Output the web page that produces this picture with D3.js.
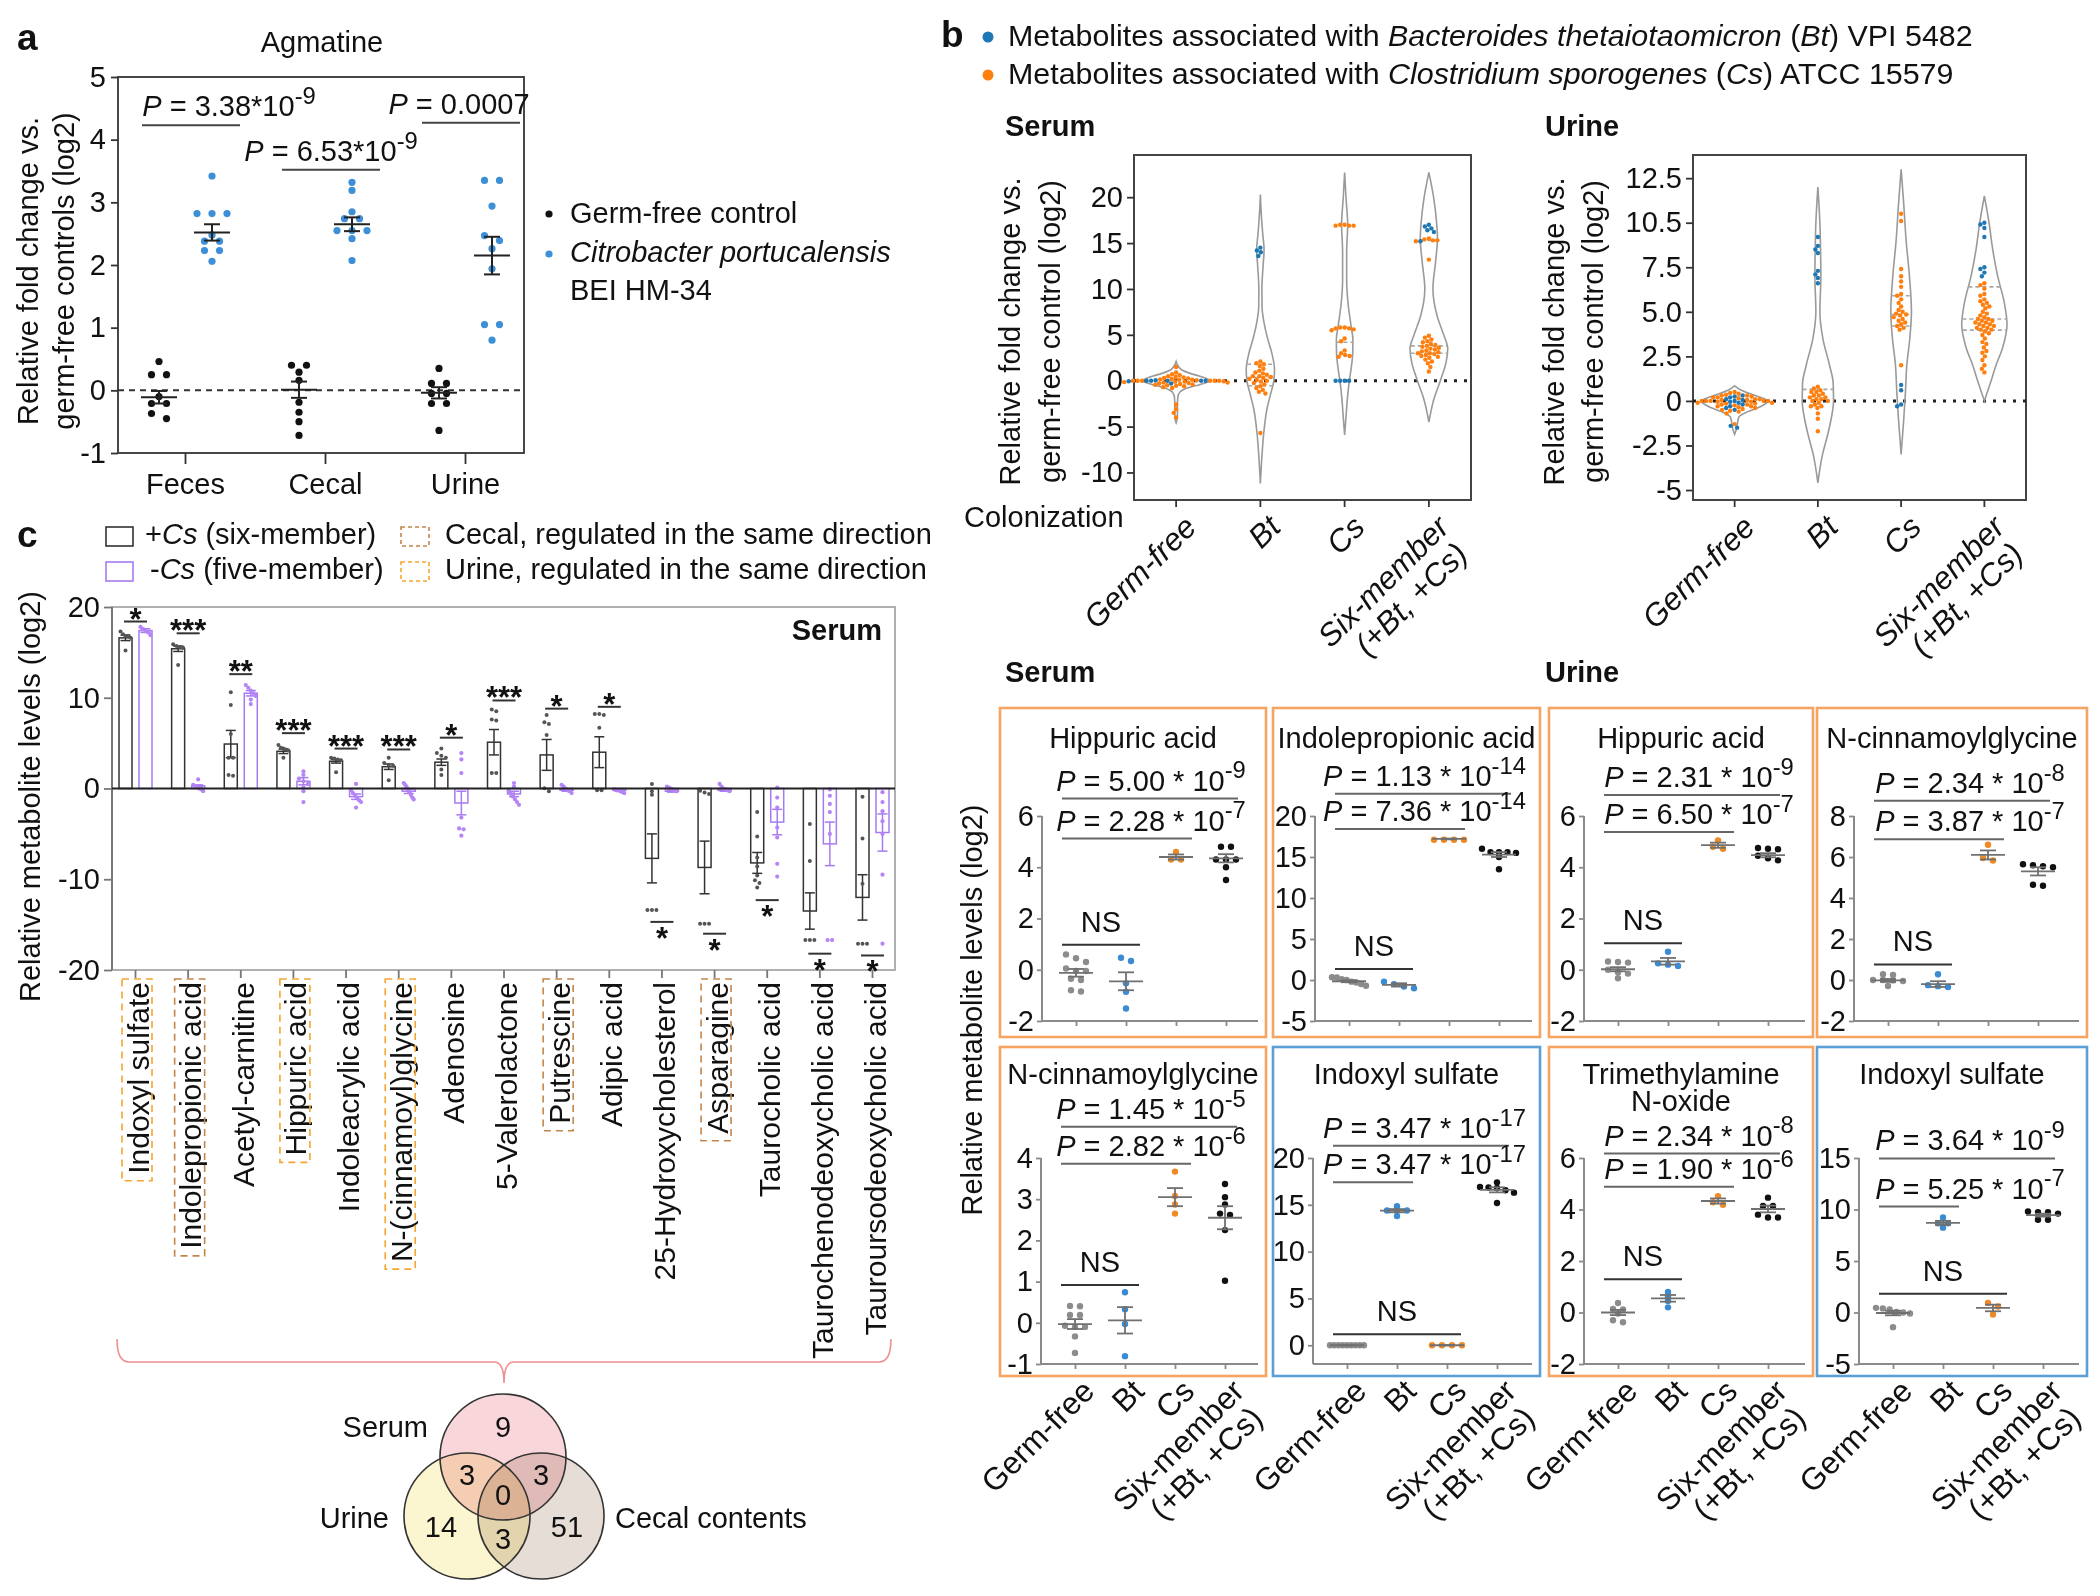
<!DOCTYPE html>
<html><head><meta charset="utf-8">
<script src="https://cdn.jsdelivr.net/npm/d3@7/dist/d3.min.js"></script>
<style>html,body{margin:0;padding:0;background:#fff}svg{display:block}</style>
</head><body>
<svg id="fig" width="2100" height="1596" xmlns="http://www.w3.org/2000/svg"></svg>
<script>
// ======================= DATA =======================
// ---- panel a : Agmatine ----
const agmatineSites = ["Feces", "Cecal", "Urine"];
const agmatineTicks = [-1, 0, 1, 2, 3, 4, 5];
const agmatineGermFree = [
  [0.46, 0.25, 0.25, -0.1, -0.21, -0.21, -0.37, -0.45],
  [0.4, 0.4, 0.29, 0.16, -0.19, -0.35, -0.5, -0.72],
  [0.35, 0.11, 0.11, -0.05, -0.05, -0.21, -0.21, -0.64]
];
const agmatineCitrobacter = [
  [3.42, 2.82, 2.82, 2.82, 2.48, 2.38, 2.38, 2.23, 2.23, 2.06],
  [3.32, 3.19, 2.85, 2.74, 2.74, 2.55, 2.55, 2.55, 2.42, 2.07],
  [3.35, 3.35, 2.94, 2.47, 2.39, 2.26, 1.94, 1.05, 1.05, 0.8]
];
const agmatineGermFreeMean = [-0.11, 0.01, -0.04];
const agmatineGermFreeSem = [0.1, 0.13, 0.09];
const agmatineCitrobacterMean = [2.52, 2.65, 2.15];
const agmatineCitrobacterSem = [0.13, 0.11, 0.3];
const agmatinePMantissa = [" = 3.38*10", " = 6.53*10", " = 0.0007"];
const agmatinePExponent = ["-9", "-9", ""];
const agmatinePLine = [4.23, 3.52, 4.27];

// ---- panel b : violins ----
const colonizationGroups = ["Germ-free", "Bt", "Cs", "Six-member"];
const serumTicks = [-10, -5, 0, 5, 10, 15, 20];
const serumTickLabels = ["-10", "-5", "0", "5", "10", "15", "20"];
const urineTicks = [-5, -2.5, 0, 2.5, 5, 7.5, 10, 12.5];
const urineTickLabels = ["-5", "-2.5", "0", "2.5", "5.0", "7.5", "10.5", "12.5"];
// density profiles: [log2 value, relative half-width]
const serumViolinProfiles = [
  [[2.1,0],[1.6,0.06],[1.2,0.16],[0.8,0.42],[0.4,0.78],[0,1],[-0.4,0.72],[-0.8,0.33],[-1.3,0.1],[-1.8,0.05],[-2.5,0.04],[-3.5,0.04],[-4.2,0.03],[-4.6,0]],
  [[20.3,0],[18,0.03],[16,0.07],[14.3,0.11],[12.5,0.08],[10,0.045],[8,0.05],[6.5,0.1],[4.8,0.2],[3,0.34],[1.2,0.42],[0,0.4],[-1.5,0.3],[-3,0.2],[-5.7,0.1],[-8,0.05],[-11.2,0]],
  [[22.7,0],[20,0.04],[17,0.09],[14,0.06],[11,0.06],[8.5,0.1],[6,0.19],[4.5,0.245],[3,0.24],[1.5,0.2],[0,0.14],[-2,0.08],[-4,0.04],[-5.9,0]],
  [[22.7,0],[20,0.14],[17,0.235],[15.5,0.255],[13,0.2],[10,0.12],[7,0.25],[5,0.44],[3.5,0.56],[2,0.51],[0,0.34],[-2,0.15],[-4.5,0]]
];
const urineViolinProfiles = [
  [[0.85,0],[0.6,0.2],[0.3,0.62],[0,1],[-0.3,0.8],[-0.6,0.4],[-0.9,0.13],[-1.3,0.08],[-1.6,0.05],[-1.87,0]],
  [[12,0],[10,0.06],[8.5,0.08],[7,0.09],[5,0.06],[3.5,0.15],[2,0.35],[1,0.46],[0,0.47],[-1,0.4],[-2,0.28],[-3,0.14],[-4.6,0]],
  [[13,0],[11,0.08],[9,0.15],[7,0.25],[5,0.31],[3.5,0.26],[2,0.17],[0.5,0.13],[-1,0.08],[-3,0]],
  [[11.5,0],[10,0.14],[8.5,0.25],[7,0.4],[5.5,0.6],[4.3,0.68],[3,0.55],[2,0.35],[1,0.18],[0,0]]
];
const serumQuartiles = [[], [-0.55, 0.35, 1.8], [2.75, 4.2, 5.8], [3.0, 3.8, 15.3]];
const urineQuartiles = [[], [0.65], [4.2, 4.85, 5.9], [3.97, 4.6, 6.4]];
const serumBtDots = [
  [0, 0, 0, 0, 0, 0.05, -0.05, -0.3],
  [14.5, 14.2, 14.0, 13.6],
  [0, 0, 0, 0],
  [17.0, 16.8, 16.6, 16.4, 16.2, 15.2]
];
const serumCsDots = [
  [1.5, 0.9, 0.7, 0.6, 0.5, 0.4, 0.35, 0.3, 0.25, 0.2, 0.15, 0.1, 0.1, 0.05, 0, 0, 0, 0, 0, 0, -0.05, -0.1, -0.1, -0.15, -0.2, -0.2, -0.25, -0.3, -0.35, -0.4, -0.45, -0.5, -0.55, -0.6, -0.7, -0.8, -2.6, -3.1, -3.5, -4.0],
  [2.1, 1.9, 1.8, 1.6, 1.3, 1.1, 0.9, 0.8, 0.65, 0.5, 0.5, 0.4, 0.3, 0.2, 0.1, 0, -0.1, -0.25, -0.4, -0.6, -0.8, -1.0, -1.2, -1.4, -5.7],
  [17.0, 17.0, 16.9, 16.9, 16.9, 5.8, 5.8, 5.7, 5.7, 5.6, 5.5, 4.6, 4.3, 3.3, 3.0, 2.8, 2.7, 2.6],
  [15.5, 15.4, 15.3, 15.3, 15.2, 13.2, 4.9, 4.7, 4.5, 4.3, 4.2, 4.0, 3.9, 3.8, 3.7, 3.6, 3.5, 3.4, 3.3, 3.2, 3.1, 3.0, 3.0, 2.9, 2.8, 2.7, 2.6, 2.5, 2.3, 2.1, 1.9, 1.5, 1.0]
];
const urineBtDots = [
  [0.3, 0.25, 0.2, 0.1, 0.05, 0, -0.05, -0.1, -0.2, -0.3, -0.4, -0.5, -1.4, -1.5],
  [9.2, 8.7, 8.5, 8.3, 7.3, 7.1, 6.9, 6.6],
  [0.9, 0.6, -0.2, -0.3],
  [10.0, 9.9, 9.7, 9.2, 7.5, 7.4, 7.2, 7.0]
];
const urineCsDots = [
  [0.5, 0.45, 0.4, 0.35, 0.3, 0.3, 0.25, 0.2, 0.2, 0.15, 0.1, 0.1, 0.05, 0.05, 0, 0, 0, 0, 0, -0.05, -0.05, -0.1, -0.1, -0.15, -0.15, -0.2, -0.2, -0.25, -0.3, -0.3, -0.35, -0.4, -0.45, -0.5, -0.55, -0.6, -0.7, -1.3],
  [0.8, 0.7, 0.6, 0.5, 0.5, 0.4, 0.3, 0.3, 0.2, 0.2, 0.1, 0.1, 0, 0, -0.1, -0.2, -0.3, -0.3, -0.4, -0.7, -1.0, -1.7],
  [10.5, 10.1, 7.4, 7.0, 6.7, 6.4, 6.0, 5.9, 5.7, 5.5, 5.3, 5.1, 5.0, 4.9, 4.85, 4.8, 4.7, 4.6, 4.5, 4.4, 4.3, 4.2, 4.1, 4.0, 2.0],
  [6.6, 6.5, 6.3, 6.0, 5.9, 5.7, 5.6, 5.5, 5.4, 5.3, 5.2, 5.0, 4.9, 4.8, 4.7, 4.6, 4.6, 4.5, 4.5, 4.4, 4.4, 4.3, 4.3, 4.2, 4.2, 4.1, 4.1, 4.0, 4.0, 3.9, 3.8, 3.7, 3.5, 3.3, 3.2, 3.0, 2.8, 2.7, 2.5, 2.3, 2.0, 1.8, 1.6]
];

// ---- panel b : small dot plots ----
const smallTitles = [["Hippuric acid"], ["Indolepropionic acid"], ["Hippuric acid"], ["N-cinnamoylglycine"],
  ["N-cinnamoylglycine"], ["Indoxyl sulfate"], ["Trimethylamine", "N-oxide"], ["Indoxyl sulfate"]];
const smallAssociation = ["Cs", "Cs", "Cs", "Cs", "Cs", "Bt", "Cs", "Bt"];
const smallDomains = [[-2, 6], [-5, 20], [-2, 6], [-2, 8], [-1, 4], [-2, 20], [-2, 6], [-5, 15]];
const smallTicks = [[-2, 0, 2, 4, 6], [-5, 0, 5, 10, 15, 20], [-2, 0, 2, 4, 6], [-2, 0, 2, 4, 6, 8],
  [-1, 0, 1, 2, 3, 4], [0, 5, 10, 15, 20], [-2, 0, 2, 4, 6], [-5, 0, 5, 10, 15]];
const smallGermFree = [
  [0.6, 0.45, 0.3, 0.05, -0.05, -0.05, -0.35, -0.4, -0.8, -0.85],
  [0.35, 0.3, 0.1, 0, -0.2, -0.3, -0.5, -0.7],
  [0.32, 0.3, 0.28, 0, -0.1, -0.15, -0.33],
  [0.28, 0.25, 0, 0, -0.02, -0.05, -0.29],
  [0.41, 0.4, 0.19, 0.19, -0.07, -0.1, -0.1, -0.33, -0.73],
  [0, 0, 0, 0, 0, 0, 0, 0, 0],
  [0.37, 0.14, 0.12, -0.04, -0.3, -0.38],
  [0.45, 0.4, 0.3, 0.05, 0, -0.1, -1.42]
];
const smallBt = [
  [0.47, 0.34, -0.53, -0.86, -1.51],
  [-0.2, -0.5, -0.8, -1.0],
  [0.7, 0.25, 0.2, 0.15],
  [0.28, -0.25, -0.3, -0.34],
  [0.74, 0.33, -0.03, -0.81],
  [14.85, 14.4, 14.4, 14.4, 13.8],
  [0.8, 0.61, 0.45, 0.2],
  [9.23, 8.66, 8.66, 8.24]
];
const smallCs = [
  [4.6, 4.3, 4.3],
  [17.1, 17.1, 17.1, 17.1],
  [5.05, 4.8, 4.72],
  [6.6, 5.95, 5.83],
  [3.67, 3.08, 2.87, 2.65],
  [0, 0, 0, 0],
  [4.52, 4.28, 4.18],
  [0.93, 0.58, -0.2]
];
const smallSix = [
  [4.8, 4.8, 4.3, 4.3, 4.3, 4.0, 3.5],
  [16.0, 15.6, 15.6, 15.6, 15.5, 15.0, 13.5],
  [4.75, 4.72, 4.7, 4.45, 4.35, 4.27],
  [5.65, 5.6, 5.55, 5.5, 4.65, 4.6],
  [3.37, 3.05, 2.87, 2.65, 2.62, 2.25, 1.02],
  [17.4, 16.9, 16.85, 16.8, 16.55, 16.3, 15.2],
  [4.46, 4.14, 4.14, 3.8, 3.69, 3.69],
  [9.8, 9.75, 9.75, 9.6, 9.0, 9.0]
];
const smallMeans = [[-0.12, -0.45, 4.4, 4.35], [-0.15, -0.6, 17.2, 15.3], [0.02, 0.33, 4.86, 4.47], [-0.02, -0.2, 6.1, 5.3],
  [-0.03, 0.06, 3.05, 2.55], [0, 14.37, 0, 16.6], [0, 0.55, 4.33, 4.02], [-0.05, 8.7, 0.44, 9.45]];
const smallSems = [[0.15, 0.35, 0.1, 0.16], [0.12, 0.2, 0.05, 0.3], [0.08, 0.13, 0.1, 0.08], [0.07, 0.14, 0.22, 0.2],
  [0.12, 0.32, 0.22, 0.28], [0.02, 0.17, 0.01, 0.27], [0.1, 0.13, 0.1, 0.13], [0.22, 0.2, 0.32, 0.14]];
const smallP1 = [["5.00", "-9"], ["1.13", "-14"], ["2.31", "-9"], ["2.34", "-8"], ["1.45", "-5"], ["3.47", "-17"], ["2.34", "-8"], ["3.64", "-9"]];
const smallP2 = [["2.28", "-7"], ["7.36", "-14"], ["6.50", "-7"], ["3.87", "-7"], ["2.82", "-6"], ["3.47", "-17"], ["1.90", "-6"], ["5.25", "-7"]];
// y (log2) of the comparison bars: [P1 line, P2 line, NS line]
const smallLineValues = [[6.68, 5.12, 0.98], [22.7, 18.4, 1.34], [6.82, 5.38, 1.03], [8.74, 6.87, 0.76],
  [4.76, 3.86, 0.92], [21.3, 17.4, 1.18], [6.17, 4.88, 1.29], [14.96, 10.28, 1.81]];

// ---- panel c ----
const metaboliteNames = ["Indoxyl sulfate", "Indolepropionic acid", "Acetyl-carnitine", "Hippuric acid", "Indoleacrylic acid",
  "N-(cinnamoyl)glycine", "Adenosine", "5-Valerolactone", "Putrescine", "Adipic acid", "25-Hydroxycholesterol",
  "Asparagine", "Taurocholic acid", "Taurochenodeoxycholic acid", "Tauroursodeoxycholic acid"];
const metaboliteTicks = [-20, -10, 0, 10, 20];
const sixMemberMean = [16.6, 15.4, 4.9, 4.1, 3.0, 2.4, 2.9, 5.1, 3.7, 4.0, -7.7, -8.7, -8.2, -13.5, -12.0];
const sixMemberSem = [0.3, 0.3, 1.5, 0.25, 0.2, 0.3, 0.35, 1.4, 1.7, 1.7, 2.7, 2.9, 1.15, 2.0, 2.5];
const fiveMemberMean = [17.4, 0.3, 10.5, 0.8, -0.9, -0.3, -1.6, -0.6, -0.2, -0.2, -0.3, -0.2, -3.7, -6.1, -4.85];
const fiveMemberSem = [0.2, 0.1, 0.3, 0.4, 0.3, 0.25, 1.3, 0.3, 0.1, 0.05, 0.1, 0.1, 1.4, 2.4, 2.05];
const sixMemberDots = [
  [17.3, 17.0, 16.8, 16.8, 16.6, 15.2], [15.9, 15.7, 15.6, 15.5, 13.6], [10.6, 9.2, 6.0, 3.4, 3.4, 1.5, 1.4],
  [4.8, 4.5, 4.4, 4.3, 4.2, 3.4], [3.4, 3.3, 3.2, 3.1, 1.8], [3.4, 2.8, 2.6, 2.5, 0.9], [4.4, 3.9, 3.6, 3.4, 2.1, 1.5],
  [8.7, 8.5, 7.6, 7.5, 1.7, 1.7], [8.1, 7.3, 7.1, 5.9, 0.03, -0.3], [8.2, 8.2, 8.1, 6.7, -0.2, -0.2],
  [0.5, -0.3, -0.7, -13.4, -13.4, -13.4], [-0.25, -0.45, -0.6, -14.9, -14.9, -14.9],
  [-2.6, -5.3, -7.6, -8.6, -9.6, -10.1, -10.4, -10.9], [-3.9, -8.0, -16.7, -16.7, -16.7], [-0.9, -5.5, -10.5, -17.1, -17.1, -17.1]
];
const fiveMemberDots = [
  [17.8, 17.6, 17.5, 17.3, 17.2, 16.9], [1.0, 0.4, 0.3, 0.1, 0, -0.1, -0.3], [11.4, 11.1, 10.8, 10.5, 10.2, 9.8, 9.3],
  [1.9, 1.5, 1.1, 0.8, 0.5, 0.1, -0.3, -1.5], [0.5, -0.2, -0.5, -0.8, -1.0, -1.3, -1.5, -2.1],
  [0.6, 0.4, 0.2, -0.1, -0.4, -0.7, -1.0, -1.2], [3.9, 3.2, 1.7, -3.2, -4.4, -4.5, -5.2],
  [0.6, 0.2, -0.3, -0.6, -0.9, -1.2, -1.5, -1.8], [0.4, 0.2, 0, -0.2, -0.3, -0.5], [-0.1, -0.2, -0.2, -0.3, -0.4, -0.5],
  [0.2, 0.1, 0, -0.1, -0.2, -0.3], [0.5, 0.2, 0, -0.1, -0.2, -0.3], [0.1, -1.0, -2.1, -4.3, -5.4, -8.3, -9.7],
  [-0.1, -0.8, -1.7, -2.6, -5.0, -16.7, -16.7], [-0.4, -1.5, -2.5, -3.6, -5.0, -9.5, -17.1]
];
const significanceLabels = ["*", "***", "**", "***", "***", "***", "*", "***", "*", "*", "*", "*", "*", "*", "*"];
const significanceLineValues = [18.4, 17.1, 12.6, 6.1, 4.4, 4.3, 5.6, 9.7, 8.8, 9.0, -14.7, -16.0, -12.3, -18.2, -18.4];
const sameDirectionIn = ["Urine", "Cecal", "", "Urine", "", "Urine", "", "", "Cecal", "", "", "Cecal", "", "", ""];

// ---- Venn ----
const vennSets = ["Serum", "Urine", "Cecal contents"];
const vennOnly = [9, 14, 51];
const vennSerumUrine = 3, vennSerumCecal = 3, vennUrineCecal = 3, vennAll = 0;

// ======================= DRAWING =======================
const svg = d3.select("#fig");
const F = "'Liberation Sans', Arial, Helvetica, sans-serif";
const FS = 29;
const ROT_FS = 31.5;
const INK = "#111";

function rich(parent, x, y, parts, o = {}) {
  const size = o.size || FS;
  const t = parent.append("text").attr("x", x).attr("y", y)
    .attr("font-family", F).attr("font-size", size)
    .attr("text-anchor", o.anchor || "start").attr("fill", o.fill || INK);
  if (o.weight) t.attr("font-weight", o.weight);
  if (o.italic) t.attr("font-style", "italic");
  if (o.transform) t.attr("transform", o.transform);
  if (typeof parts === "string") parts = [[parts]];
  parts.forEach(([s, st]) => {
    if (!s) return;
    const ts = t.append("tspan").text(s);
    if (st === "i") ts.attr("font-style", "italic");
    if (st === "sup") ts.attr("font-size", size * 0.82).attr("dy", -size * 0.42);
  });
  return t;
}
function line(g, x1, y1, x2, y2, col, w, dash) {
  const l = g.append("line").attr("x1", x1).attr("y1", y1).attr("x2", x2).attr("y2", y2)
    .attr("stroke", col).attr("stroke-width", w);
  if (dash) l.attr("stroke-dasharray", dash);
  return l;
}
function styleAxis(sel, size, col) {
  sel.attr("font-family", null).attr("font-size", null);
  sel.select(".domain").remove();
  sel.selectAll(".tick line").attr("stroke", col).attr("stroke-width", 1.8);
  sel.selectAll(".tick text").attr("font-family", F).attr("font-size", size).attr("fill", INK);
}
function rowLayout(vals, ys, cx, stepMax, spanMax, thresh) {
  const pts = vals.map(v => ({ v, y: ys(v) })).sort((a, b) => a.y - b.y);
  const rows = [];
  pts.forEach(p => {
    const last = rows[rows.length - 1];
    if (last && Math.abs(p.y - last[last.length - 1].y) < thresh) last.push(p); else rows.push([p]);
  });
  rows.forEach(r => {
    const k = r.length, step = k > 1 ? Math.min(stepMax, spanMax / (k - 1)) : 0;
    r.forEach((p, i) => p.x = cx + (i - (k - 1) / 2) * step);
  });
  return pts;
}
function swarm(pts, ys, cx, r) {
  pts.forEach(p => p.y = ys(p.v));
  pts.sort((a, b) => a.y - b.y);
  const placed = [], d2 = (2 * r) * (2 * r) * 0.92;
  pts.forEach(p => {
    let off = 0;
    for (let k = 0; k < 600; k++) {
      const o = (k % 2 === 0 ? 1 : -1) * Math.ceil(k / 2) * 0.5;
      let ok = true;
      for (const q of placed) {
        const dx = q.x - (cx + o), dy = q.y - p.y;
        if (dx * dx + dy * dy < d2) { ok = false; break; }
      }
      if (ok) { off = o; break; }
    }
    p.x = cx + off; placed.push(p);
  });
  return pts;
}
function meanSem(g, cx, ys, mean, sem, half, cap, col, w) {
  line(g, cx - half, ys(mean), cx + half, ys(mean), col, w);
  line(g, cx, ys(mean - sem), cx, ys(mean + sem), col, w);
  line(g, cx - cap, ys(mean + sem), cx + cap, ys(mean + sem), col, w);
  line(g, cx - cap, ys(mean - sem), cx + cap, ys(mean - sem), col, w);
}
function rotatedGroupLabel(g, x, y, grp, italic) {
  const lab = g.append("text").attr("font-family", F).attr("font-size", ROT_FS)
    .attr("text-anchor", "end").attr("fill", INK)
    .attr("transform", `translate(${x},${y}) rotate(-45)`);
  if (italic) lab.attr("font-style", "italic");
  const lines = grp === "Six-member" ? ["Six-member", "(+Bt, +Cs)"] : [grp];
  lines.forEach((s, k) => lab.append("tspan").attr("x", k ? -6 : 0).attr("dy", k ? "1.02em" : "0.72em").text(s));
}

// ---------------- Panel a ----------------
(function () {
  const A = { x0: 118, x1: 524, y0: 77, y1: 453 };
  const g = svg.append("g");
  rich(g, 17, 50, "a", { size: 37, weight: "bold" });
  rich(g, (A.x0 + A.x1) / 2 + 1, 52, "Agmatine", { anchor: "middle" });
  const ya = d3.scaleLinear().domain([-1, 5]).range([A.y1, A.y0]);
  const xa = d3.scalePoint().domain(agmatineSites).range([A.x0 + 67, A.x1 - 59]);
  g.append("rect").attr("x", A.x0).attr("y", A.y0).attr("width", A.x1 - A.x0).attr("height", A.y1 - A.y0)
    .attr("fill", "none").attr("stroke", "#333").attr("stroke-width", 1.8);
  const ay = g.append("g").attr("transform", `translate(${A.x0},0)`)
    .call(d3.axisLeft(ya).tickValues(agmatineTicks).tickSize(7).tickPadding(5).tickFormat(d => String(d)));
  styleAxis(ay, FS, "#333");
  const ax = g.append("g").attr("transform", `translate(0,${A.y1})`)
    .call(d3.axisBottom(xa).tickSize(11).tickPadding(9));
  styleAxis(ax, FS, "#333");
  line(g, A.x0, ya(0), A.x1, ya(0), "#333", 2, "6,5");
  rich(g, 0, 0, "Relative fold change vs.", { anchor: "middle", transform: `translate(38,${(A.y0 + A.y1) / 2 + 6}) rotate(-90)` });
  rich(g, 0, 0, "germ-free controls (log2)", { anchor: "middle", transform: `translate(74,${(A.y0 + A.y1) / 2 + 6}) rotate(-90)` });
  const pDx = [38, 0, -12];
  agmatineSites.forEach((s, i) => {
    const c = xa(s);
    rowLayout(agmatineGermFree[i], ya, c - 26, 15, 30, 5.5).forEach(p =>
      g.append("circle").attr("cx", p.x).attr("cy", p.y).attr("r", 3.6).attr("fill", "#111"));
    rowLayout(agmatineCitrobacter[i], ya, c + 27, 15, 30, 5.5).forEach(p =>
      g.append("circle").attr("cx", p.x).attr("cy", p.y).attr("r", 3.6).attr("fill", "#3d8fd6"));
    meanSem(g, c - 26, ya, agmatineGermFreeMean[i], agmatineGermFreeSem[i], 18, 8, "#222", 2);
    meanSem(g, c + 27, ya, agmatineCitrobacterMean[i], agmatineCitrobacterSem[i], 18, 8, "#222", 2);
    const ly = ya(agmatinePLine[i]), lc = c + 6;
    line(g, lc - 49, ly, lc + 49, ly, "#444", 2);
    rich(g, lc + pDx[i], ly - 9, [["P", "i"], [agmatinePMantissa[i]], [agmatinePExponent[i], "sup"]], { anchor: "middle" });
  });
  g.append("circle").attr("cx", 549).attr("cy", 214).attr("r", 3.6).attr("fill", "#111");
  g.append("circle").attr("cx", 549).attr("cy", 254).attr("r", 3.6).attr("fill", "#3d8fd6");
  rich(g, 570, 223, "Germ-free control");
  rich(g, 570, 262, [["Citrobacter portucalensis", "i"]]);
  rich(g, 570, 300, "BEI HM-34");
})();

// ---------------- Panel b top: legend + violins ----------------
const VBLUE = "#1f77b4", VORANGE = "#ff7f0e";
(function () {
  const g = svg.append("g");
  rich(g, 941, 47, "b", { size: 37, weight: "bold" });
  g.append("circle").attr("cx", 988).attr("cy", 37).attr("r", 5.5).attr("fill", VBLUE);
  g.append("circle").attr("cx", 988).attr("cy", 75).attr("r", 5.5).attr("fill", VORANGE);
  rich(g, 1008, 46, [["Metabolites associated with "], ["Bacteroides thetaiotaomicron", "i"], [" ("], ["Bt", "i"], [") VPI 5482"]], { size: 30.4 });
  rich(g, 1008, 84, [["Metabolites associated with "], ["Clostridium sporogenes", "i"], [" ("], ["Cs", "i"], [") ATCC 15579"]], { size: 30.4 });
})();

function violinPlot(cfg) {
  const g = svg.append("g");
  rich(g, cfg.titleX, 136, cfg.title, { weight: "bold" });
  const ys = d3.scaleLinear().domain(cfg.domain).range([cfg.y1, cfg.y0]);
  const xs = d3.scaleBand().domain(colonizationGroups).range([cfg.x0, cfg.x1]);
  const half = xs.bandwidth() * 0.4;
  g.append("rect").attr("x", cfg.x0).attr("y", cfg.y0).attr("width", cfg.x1 - cfg.x0).attr("height", cfg.y1 - cfg.y0)
    .attr("fill", "none").attr("stroke", "#444").attr("stroke-width", 2);
  const ay = g.append("g").attr("transform", `translate(${cfg.x0},0)`)
    .call(d3.axisLeft(ys).tickValues(cfg.ticks).tickFormat((d, i) => cfg.tickLabels[i]).tickSize(7).tickPadding(4));
  styleAxis(ay, FS, "#333");
  const ax = g.append("g").attr("transform", `translate(0,${cfg.y1})`)
    .call(d3.axisBottom(xs).tickSize(7).tickFormat(""));
  styleAxis(ax, FS, "#333");
  line(g, cfg.x0, ys(0), cfg.x1, ys(0), "#222", 3, "3,7");
  const yc = (cfg.y0 + cfg.y1) / 2;
  rich(g, 0, 0, "Relative fold change vs.", { anchor: "middle", transform: `translate(${cfg.yt1},${yc + 4}) rotate(-90)` });
  rich(g, 0, 0, "germ-free control (log2)", { anchor: "middle", transform: `translate(${cfg.yt2},${yc + 4}) rotate(-90)` });
  const interp = (prof, q) => {
    for (let k = 0; k < prof.length - 1; k++) {
      const a = prof[k], b = prof[k + 1];
      if (q <= a[0] && q >= b[0]) return a[1] + (b[1] - a[1]) * (a[0] - q) / (a[0] - b[0]);
    }
    return 0;
  };
  colonizationGroups.forEach((grp, i) => {
    const cx = xs(grp) + xs.bandwidth() / 2;
    const prof = cfg.profiles[i];
    const area = d3.area().y(d => ys(d[0])).x0(d => cx - d[1] * half).x1(d => cx + d[1] * half).curve(d3.curveMonotoneY);
    g.append("path").attr("d", area(prof)).attr("fill", "none").attr("stroke", "#9a9a9a").attr("stroke-width", 1.6);
    cfg.quartiles[i].forEach(q => {
      const w = interp(prof, q) * half;
      line(g, cx - w, ys(q), cx + w, ys(q), "#a8a8a8", 1.6, "4,3");
    });
    const pts = cfg.bt[i].map(v => ({ v, c: VBLUE })).concat(cfg.cs[i].map(v => ({ v, c: VORANGE })));
    swarm(pts, ys, cx, 2.2).forEach(p =>
      g.append("circle").attr("cx", p.x).attr("cy", p.y).attr("r", 2.2).attr("fill", p.c));
    rotatedGroupLabel(g, cx + 6, cfg.y1 + 13, grp, true);
  });
  if (cfg.colonization) rich(g, 964, 527, "Colonization");
}
violinPlot({ title: "Serum", titleX: 1005, x0: 1134, x1: 1471, y0: 155, y1: 500, domain: [-13, 24.6],
  ticks: serumTicks, tickLabels: serumTickLabels, profiles: serumViolinProfiles, quartiles: serumQuartiles,
  bt: serumBtDots, cs: serumCsDots, yt1: 1020, yt2: 1060, colonization: true });
violinPlot({ title: "Urine", titleX: 1545, x0: 1693, x1: 2026, y0: 155, y1: 500, domain: [-5.56, 13.8],
  ticks: urineTicks, tickLabels: urineTickLabels, profiles: urineViolinProfiles, quartiles: urineQuartiles,
  bt: urineBtDots, cs: urineCsDots, yt1: 1564, yt2: 1603, colonization: false });

// ---------------- Panel b bottom: 8 dot plots ----------------
const smallBoxes = [[1000, 708, 1266, 1037], [1273, 708, 1540, 1037], [1549, 708, 1813, 1037], [1817, 708, 2087, 1037],
  [1000, 1047, 1266, 1376], [1273, 1047, 1540, 1376], [1549, 1047, 1813, 1376], [1817, 1047, 2087, 1376]];
const smallAxisX = [1042, 1315, 1584, 1854, 1041, 1313, 1584, 1859];
const groupColor = ["#8c8c8c", "#3a8bd4", "#f08a24", "#111"];
(function () {
  const g = svg.append("g");
  rich(g, 1005, 682, "Serum", { weight: "bold" });
  rich(g, 1545, 682, "Urine", { weight: "bold" });
  rich(g, 0, 0, "Relative metabolite levels (log2)", { anchor: "middle", transform: "translate(982,1010) rotate(-90)" });
  smallBoxes.forEach((b, i) => {
    const [bx0, by0, bx1, by1] = b;
    const row = i < 4 ? 0 : 1;
    const yr = row === 0 ? [1021, 816] : [1364, 1158];
    const ys = d3.scaleLinear().domain(smallDomains[i]).range(yr);
    const axX = smallAxisX[i];
    const xs = d3.scalePoint().domain(colonizationGroups).range([axX + 34, axX + 184]);
    g.append("rect").attr("x", bx0).attr("y", by0).attr("width", bx1 - bx0).attr("height", by1 - by0)
      .attr("fill", "none").attr("stroke", smallAssociation[i] === "Cs" ? "#f5a462" : "#5b9fd5").attr("stroke-width", 2.6);
    const cxBox = (bx0 + bx1) / 2;
    smallTitles[i].forEach((t, k) => rich(g, cxBox, by0 + (row ? 37 : 40) + k * 27, t, { anchor: "middle" }));
    line(g, axX, yr[0], axX, yr[1], "#8a8a8a", 2);
    line(g, axX, yr[0], bx1 - 8, yr[0], "#8a8a8a", 2);
    const ay = g.append("g").attr("transform", `translate(${axX},0)`)
      .call(d3.axisLeft(ys).tickValues(smallTicks[i]).tickSize(5).tickPadding(3).tickFormat(d => String(d)));
    styleAxis(ay, FS, "#8a8a8a");
    const ax = g.append("g").attr("transform", `translate(0,${yr[0]})`)
      .call(d3.axisBottom(xs).tickSize(5).tickFormat(""));
    styleAxis(ax, FS, "#8a8a8a");
    const [l1, l2, ln] = smallLineValues[i];
    const pairL2 = smallAssociation[i] === "Cs" ? "Cs" : "Bt";
    const pairNS = smallAssociation[i] === "Cs" ? "Bt" : "Cs";
    const xL = xs("Germ-free") - 14;
    line(g, xL, ys(l1), xs("Six-member") + 12, ys(l1), "#666", 2);
    line(g, xL, ys(l2), xs(pairL2) + 16, ys(l2), "#666", 2);
    line(g, xL, ys(ln), xs(pairNS) + 14, ys(ln), "#333", 2);
    rich(g, cxBox + 18, ys(l1) - 8, [["P", "i"], [" = " + smallP1[i][0] + " * 10"], [smallP1[i][1], "sup"]], { anchor: "middle" });
    rich(g, cxBox + 18, ys(l2) - 8, [["P", "i"], [" = " + smallP2[i][0] + " * 10"], [smallP2[i][1], "sup"]], { anchor: "middle" });
    rich(g, (xL + xs(pairNS) + 14) / 2, ys(ln) - 13, "NS", { anchor: "middle" });
    const sets = [smallGermFree[i], smallBt[i], smallCs[i], smallSix[i]];
    colonizationGroups.forEach((grp, k) => {
      const cx = xs(grp);
      rowLayout(sets[k], ys, cx, 10, 34, 4).forEach(p =>
        g.append("circle").attr("cx", p.x).attr("cy", p.y).attr("r", 3.2).attr("fill", groupColor[k]));
      meanSem(g, cx, ys, smallMeans[i][k], smallSems[i][k], 17, 8, "#707070", 1.8);
    });
    if (row === 1) colonizationGroups.forEach(grp => rotatedGroupLabel(g, xs(grp) + 5, yr[0] + 13, grp, false));
  });
})();

// ---------------- Panel c ----------------
(function () {
  const C = { x0: 112, x1: 895, y0: 607, y1: 970 };
  const g = svg.append("g");
  rich(g, 17, 547, "c", { size: 37, weight: "bold" });
  g.append("rect").attr("x", 106).attr("y", 527).attr("width", 27).attr("height", 19).attr("fill", "none").attr("stroke", "#333").attr("stroke-width", 1.6);
  g.append("rect").attr("x", 106).attr("y", 562).attr("width", 27).attr("height", 19).attr("fill", "none").attr("stroke", "#a77bf0").attr("stroke-width", 1.6);
  g.append("rect").attr("x", 401).attr("y", 527).attr("width", 28).attr("height", 19).attr("fill", "none").attr("stroke", "#c4854a").attr("stroke-width", 1.6).attr("stroke-dasharray", "4,3");
  g.append("rect").attr("x", 401).attr("y", 562).attr("width", 28).attr("height", 19).attr("fill", "none").attr("stroke", "#f5a630").attr("stroke-width", 1.6).attr("stroke-dasharray", "4,3");
  rich(g, 145, 544, [["+"], ["Cs", "i"], [" (six-member)"]]);
  rich(g, 150, 579, [["-"], ["Cs", "i"], [" (five-member)"]]);
  rich(g, 445, 544, "Cecal, regulated in the same direction");
  rich(g, 445, 579, "Urine, regulated in the same direction");

  const yc = d3.scaleLinear().domain([-20, 20]).range([C.y1, C.y0]);
  const xc = d3.scalePoint().domain(metaboliteNames).range([135, 872]);
  g.append("rect").attr("x", C.x0).attr("y", C.y0).attr("width", C.x1 - C.x0).attr("height", C.y1 - C.y0)
    .attr("fill", "none").attr("stroke", "#b0b0b0").attr("stroke-width", 2);
  line(g, C.x0, C.y0, C.x0, C.y1, "#777", 2);
  const ay = g.append("g").attr("transform", `translate(${C.x0},0)`)
    .call(d3.axisLeft(yc).tickValues(metaboliteTicks).tickSize(8).tickPadding(4).tickFormat(d => String(d)));
  styleAxis(ay, FS, "#777");
  const ax = g.append("g").attr("transform", `translate(0,${C.y1})`)
    .call(d3.axisBottom(xc).tickSize(8).tickFormat(""));
  styleAxis(ax, FS, "#777");
  rich(g, 0, 0, "Relative metabolite levels (log2)", { anchor: "middle", transform: `translate(40,${(C.y0 + C.y1) / 2 + 8}) rotate(-90)` });
  rich(g, 882, 640, "Serum", { anchor: "end", weight: "bold" });

  const BW = 13, PURPLE = "#a77bf0", PDOT = "#b585f7";
  metaboliteNames.forEach((nm, i) => {
    const c = xc(nm);
    const bx = c - 9.5, px = c + 10.5;
    const drawBar = (cx, v, col) => g.append("rect").attr("x", cx - BW / 2).attr("y", Math.min(yc(v), yc(0)))
      .attr("width", BW).attr("height", Math.abs(yc(v) - yc(0))).attr("fill", "#fff").attr("stroke", col).attr("stroke-width", 1.5);
    drawBar(bx, sixMemberMean[i], "#333");
    drawBar(px, fiveMemberMean[i], PURPLE);
    const err = (cx, m, s, col) => {
      line(g, cx, yc(m - s), cx, yc(m + s), col, 1.5);
      line(g, cx - 5, yc(m + s), cx + 5, yc(m + s), col, 1.5);
      line(g, cx - 5, yc(m - s), cx + 5, yc(m - s), col, 1.5);
    };
    err(bx, sixMemberMean[i], sixMemberSem[i], "#333");
    err(px, fiveMemberMean[i], fiveMemberSem[i], PURPLE);
    rowLayout(sixMemberDots[i], yc, bx, 4.5, 10, 3).forEach(p =>
      g.append("circle").attr("cx", p.x).attr("cy", p.y).attr("r", 2).attr("fill", "#555"));
    rowLayout(fiveMemberDots[i], yc, px, 4.5, 10, 3).forEach(p =>
      g.append("circle").attr("cx", p.x).attr("cy", p.y).attr("r", 2.1).attr("fill", PDOT));
    const sv = significanceLineValues[i], sy = yc(sv);
    line(g, c - 11, sy, c + 12, sy, "#333", 2);
    const above = sv > 0;
    rich(g, c + 0.5, above ? sy + 8 : sy + 27, significanceLabels[i], { anchor: "middle", size: 31, weight: "bold" });
    const t = rich(g, 0, 0, nm, { anchor: "end", size: 30, transform: `translate(${c + 3},${C.y1 + 12}) rotate(-90)` }).attr("dy", "0.35em");
    if (sameDirectionIn[i]) {
      const len = t.node().getComputedTextLength();
      g.append("rect").attr("x", c - 13).attr("y", C.y1 + 9).attr("width", 30).attr("height", len + 10)
        .attr("fill", "none").attr("stroke", sameDirectionIn[i] === "Urine" ? "#f5a630" : "#c4854a")
        .attr("stroke-width", 1.6).attr("stroke-dasharray", "7,5");
    }
  });
  line(g, C.x0, yc(0), C.x1, yc(0), "#222", 2);

  const L = xc(metaboliteNames[0]) - 18, R = xc(metaboliteNames[metaboliteNames.length - 1]) + 19, M = (L + R) / 2;
  const yT = 1339, yB = 1362, yP = 1383;
  g.append("path").attr("d",
    `M${L},${yT} Q${L},${yB} ${L + 12},${yB} L${M - 10},${yB} Q${M},${yB} ${M},${yP} Q${M},${yB} ${M + 10},${yB} L${R - 12},${yB} Q${R},${yB} ${R},${yT}`)
    .attr("fill", "none").attr("stroke", "#ee8f8f").attr("stroke-width", 1.6);

  const vr = 63;
  const centers = [[503, 1457], [467, 1516], [541, 1516]];
  const fills = ["#f8d6da", "#fbf5d0", "#e6ded6"];
  centers.forEach((cc, k) => g.append("circle").attr("cx", cc[0]).attr("cy", cc[1]).attr("r", vr)
    .attr("fill", fills[k]).style("mix-blend-mode", "multiply"));
  centers.forEach(cc => g.append("circle").attr("cx", cc[0]).attr("cy", cc[1]).attr("r", vr)
    .attr("fill", "none").attr("stroke", "#333").attr("stroke-width", 1.6));
  const num = (x, y, n) => rich(g, x, y + 10, String(n), { anchor: "middle" });
  num(503, 1427, vennOnly[0]); num(441, 1527, vennOnly[1]); num(567, 1527, vennOnly[2]);
  num(467, 1475, vennSerumUrine); num(541, 1475, vennSerumCecal); num(503, 1539, vennUrineCecal); num(503, 1495, vennAll);
  rich(g, 428, 1437, vennSets[0], { anchor: "end" });
  rich(g, 389, 1528, vennSets[1], { anchor: "end" });
  rich(g, 615, 1528, vennSets[2]);
})();
</script>
</body></html>
